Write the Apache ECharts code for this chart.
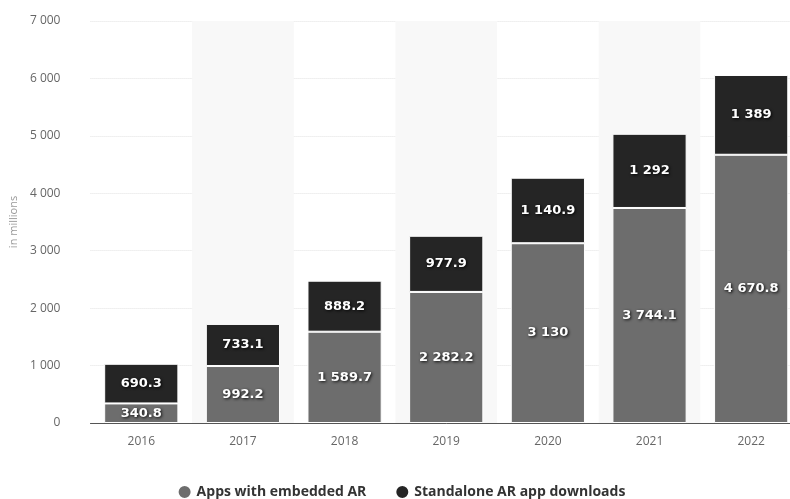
<!DOCTYPE html>
<html><head><meta charset="utf-8">
<script src="https://cdn.jsdelivr.net/npm/echarts@6/dist/echarts.min.js"></script>
<style>html,body{margin:0;padding:0;background:#fff;overflow:hidden;width:790px;height:499px}#c{width:802px;height:499px}</style>
</head><body><div id="c"></div>
<script>
const years = ['2016','2017','2018','2019','2020','2021','2022'];
const embeddedAR = [340.8, 992.2, 1589.7, 2282.2, 3130, 3744.1, 4670.8];
const standaloneAR = [690.3, 733.1, 888.2, 977.9, 1140.9, 1292, 1389];
const seriesNames = ['Apps with embedded AR', 'Standalone AR app downloads'];

function fmt(v){
  const parts = String(v).split('.');
  parts[0] = parts[0].replace(/\B(?=(\d{3})+(?!\d))/g, '\u00a0');
  return parts.join('.');
}
const labelStyle = {
  show: true, position: 'inside', color: '#fff', fontWeight: 'bold', fontSize: 13,
  fontFamily: 'DejaVu Sans', textShadowColor: 'rgba(0,0,0,0.9)', textShadowBlur: 3,
  textShadowOffsetX: 1, textShadowOffsetY: 1,
  formatter: p => fmt(p.value)
};
const chart = echarts.init(document.getElementById('c'));
chart.setOption({
  animation: false,
  grid: { left: 88, top: 21, right: 0, bottom: 76 },
  legend: {
    top: 479, left: 'center', icon: 'circle', itemWidth: 14, itemHeight: 14, itemGap: 28,
    textStyle: { color: '#333', fontSize: 14, fontWeight: 'bold', fontFamily: 'Open Sans' },
    data: seriesNames
  },
  xAxis: {
    type: 'category', data: years,
    axisLine: { lineStyle: { color: '#555', width: 1 } },
    axisTick: { show: false },
    axisLabel: { color: '#666', fontSize: 12, fontFamily: 'Open Sans', margin: 13 },
    splitArea: { show: true, areaStyle: { color: ['rgba(255,255,255,0)', '#f8f8f8'] } }
  },
  yAxis: {
    type: 'value', min: 0, max: 7000, interval: 1000,
    name: 'in millions', nameLocation: 'middle', nameGap: 71, nameRotate: 90,
    nameTextStyle: { color: '#999', fontSize: 11, fontFamily: 'Open Sans' },
    axisLine: { show: false }, axisTick: { show: false },
    axisLabel: { color: '#666', fontSize: 12, fontFamily: 'Open Sans', margin: 30, formatter: v => fmt(v) },
    splitLine: { lineStyle: { color: '#e2e2e2', type: 'dotted' } }
  },
  series: [
    { name: seriesNames[0], type: 'bar', stack: 't', data: embeddedAR, barWidth: '73%',
      itemStyle: { color: '#6d6d6d', borderColor: '#fff', borderWidth: 1 }, label: labelStyle },
    { name: seriesNames[1], type: 'bar', stack: 't', data: standaloneAR, barWidth: '73%',
      itemStyle: { color: '#252525', borderColor: '#fff', borderWidth: 1 }, label: labelStyle }
  ]
});
</script></body></html>
